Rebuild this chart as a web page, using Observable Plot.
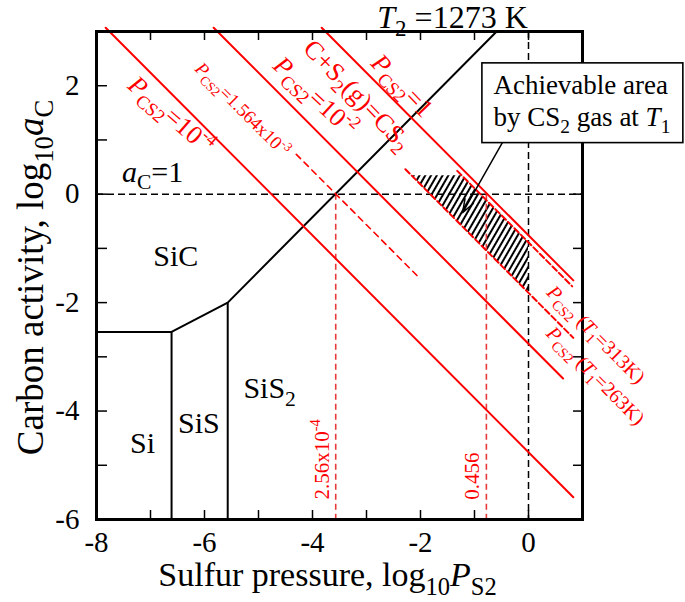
<!DOCTYPE html>
<html><head><meta charset="utf-8">
<script src="https://cdn.jsdelivr.net/npm/d3@7"></script>
<script src="https://cdn.jsdelivr.net/npm/@observablehq/plot@0.6"></script>
<style>body{margin:0;background:#fff}#chart svg{display:block;overflow:visible}</style>
</head><body><div id="chart"></div>
<script>
// ---- data (log10 units) ----
const xDomain = [-8, 1];
const yDomain = [-6, 3];
const xTickLabels = [-8, -6, -4, -2, 0];
const yTickLabels = [-6, -4, -2, 0, 2];
// C + S2(g) = CS2 : log aC = log P_CS2 + K0 - log P_S2
const K0 = -0.76;
const isobarLogP = [-4, -2, 0];            // solid P_CS2 = 1e-4, 1e-2, 1
const isobarEndX = [0.83, 0.64, 0.83];
const isobarTopY = 3.07;
const midLogP = -2.806;                      // P_CS2 = 1.564e-3 (dashed)
const midRangeX = [-4.3, -2.06];
const t1Intercept = [-0.89, -1.82];          // P_CS2(T1=313K), P_CS2(T1=263K)
const t1StartX = [-1.32, -2.28];
const t1EndX = [0.81, 0.83];
const hatchTopY = 0.34;
const vRedX = [-3.57, -0.78];                // 2.56e-4 , 0.456
const vRedLabels = ["2.56x10^{-4}", "0.456"];
const boundaryX = [-8, -6.61, -5.57, -0.59];
const boundaryY = [-2.54, -2.54, -2.0, 3];
const wallX = [-6.61, -5.57];
const wallTopY = [-2.54, -2.0];

// ---- derived tables ----
const isoPts = isobarLogP.flatMap((p, i) => {
  const c = p + K0;
  return [{id: i, x: c - isobarTopY, y: isobarTopY}, {id: i, x: isobarEndX[i], y: c - isobarEndX[i]}];
});
const midPts = midRangeX.map(x => ({x, y: midLogP + K0 - x}));
const t1Pts = t1Intercept.flatMap((c, i) => [
  {id: i, x: t1StartX[i], y: c - t1StartX[i]}, {id: i, x: t1EndX[i], y: c - t1EndX[i]}]);
const hx0 = t1Intercept[1] - hatchTopY, hx1 = t1Intercept[0] - hatchTopY;
const hatch = [hx0, hx1, 0].map(x => ({x, lo: t1Intercept[1] - x, hi: Math.min(hatchTopY, t1Intercept[0] - x)}));
const boundary = boundaryX.map((x, i) => ({x, y: boundaryY[i]}));
const walls = wallX.map((x, i) => ({x, y1: wallTopY[i], y2: yDomain[0]}));

const W = 685, H = 602, mL = 96, mR = 103, mT = 31, mB = 83;
const pw = W - mL - mR, ph = H - mT - mB;
const RED = "#ff0000", font = "Liberation Serif";
const T = (text, x, y, o = {}) => Plot.text([0], {x: [x], y: [y], text: [text], ...o});

const chart = Plot.plot({
  width: W, height: H, marginLeft: mL, marginRight: mR, marginTop: mT, marginBottom: mB,
  style: {fontFamily: font, fontSize: "29px", background: "#fff", color: "#000"},
  x: {domain: xDomain, axis: null},
  y: {domain: yDomain, axis: null},
  marks: [
    Plot.areaY(hatch, {x: "x", y1: "lo", y2: "hi", fill: "url(#hatch)", curve: "linear"}),
    Plot.ruleY([0], {stroke: "#000", strokeWidth: 1.5, strokeDasharray: "7,4"}),
    Plot.ruleX([0], {stroke: "#000", strokeWidth: 1.5, strokeDasharray: "7,4"}),
    Plot.ruleX(vRedX, {x: d => d, y1: 0, y2: yDomain[0], stroke: "#e83a3a", strokeWidth: 1.6, strokeDasharray: "6,4"}),
    Plot.line(boundary, {x: "x", y: "y", stroke: "#000", strokeWidth: 2}),
    Plot.ruleX(walls, {x: "x", y1: "y1", y2: "y2", stroke: "#000", strokeWidth: 2}),
    Plot.line(isoPts, {x: "x", y: "y", z: "id", stroke: RED, strokeWidth: 2}),
    Plot.line(midPts, {x: "x", y: "y", stroke: RED, strokeWidth: 1.6, strokeDasharray: "6,5"}),
    Plot.line(t1Pts, {x: "x", y: "y", z: "id", stroke: RED, strokeWidth: 2, strokeDasharray: "6,3"}),
    // inward ticks
    Plot.ruleX(d3.range(-8, 2), {x: d => d, insetTop: ph - 9, strokeWidth: 1.5}),
    Plot.ruleX(d3.range(-8, 2), {x: d => d, insetBottom: ph - 9, strokeWidth: 1.5}),
    Plot.ruleY(d3.range(-6, 4), {y: d => d, insetRight: pw - 11, strokeWidth: 1.5}),
    Plot.ruleY(d3.range(-6, 4), {y: d => d, insetLeft: pw - 9, strokeWidth: 1.5}),
    Plot.frame({stroke: "#000", strokeWidth: 3}),
    Plot.axisX(xTickLabels, {anchor: "bottom", label: null, tickSize: 0, tickPadding: 12, fontSize: 29, tickFormat: d => `${d}`}),
    Plot.axisY(yTickLabels, {anchor: "left", label: null, tickSize: 0, tickPadding: 17, fontSize: 29, tickFormat: d => `${d}`}),
    // axis titles
    Plot.text([0], {frameAnchor: "bottom", textAnchor: "middle", lineAnchor: "middle", dy: 56, dx: -12, text: ["Sulfur pressure, log_{10}*{P}_{S2}"], fontSize: 34}),
    Plot.text([0], {frameAnchor: "left", textAnchor: "middle", lineAnchor: "middle", dx: -65, dy: 2, rotate: -90, text: ["Carbon activity, log_{10}*{a}_{C}"], fontSize: 37}),
    // black labels
    T("*{T}_{2} =1273 K", -2.80, 3, {textAnchor: "start", dy: -14, fontSize: 32}),
    T("*{a}_{C}=1", -7.53, 0.41, {textAnchor: "start", fontSize: 30}),
    T("SiC", -6.95, -1.14, {textAnchor: "start", fontSize: 30}),
    T("Si", -7.38, -4.6, {textAnchor: "start", fontSize: 30}),
    T("SiS", -6.49, -4.22, {textAnchor: "start", fontSize: 30}),
    T("SiS_{2}", -5.28, -3.59, {textAnchor: "start", fontSize: 30}),
    // red labels
    T("*{P}_{CS2}=10^{-4}", -6.62, 1.46, {rotate: 41, fill: RED, fontSize: 26}),
    T("*{P}_{CS2}=1.564x10^{-3}", -5.30, 1.56, {rotate: 45, fill: RED, fontSize: 18.5}),
    T("*{P}_{CS2}=10^{-2}", -3.95, 1.80, {rotate: 43, fill: RED, fontSize: 26}),
    T("C+S_{2}(g)=CS_{2}", -3.17, 1.83, {rotate: 46, fill: RED, fontSize: 26}),
    T("*{P}_{CS2}=1", -2.34, 2.0, {rotate: 46, fill: RED, fontSize: 26}),
    T("*{P}_{CS2} (*{T}_{1}=313K)", 1.25, -2.59, {rotate: 45, fill: RED, fontSize: 20}),
    T("*{P}_{CS2} (*{T}_{1}=263K)", 1.24, -3.35, {rotate: 45, fill: RED, fontSize: 20}),
    Plot.text(vRedLabels, {x: [-3.82, -1.04], y: [-4.89, -5.2], text: d => d, rotate: -90, fill: RED, fontSize: 21}),
    // arrow + box
    Plot.arrow([0], {x1: [-0.46], y1: [0.99], x2: [-1.22], y2: [-0.34], stroke: "#000", strokeWidth: 1.5, headLength: 14, headAngle: 40}),
    Plot.text(["Achievable area", "by CS_{2} gas at *{T}_{1}"], {x: [-0.65, -0.65], y: [2.0, 1.41], text: d => d, textAnchor: "start", fontSize: 27, className: "annot"})
  ]
});

document.getElementById("chart").appendChild(chart);
const NS = "http://www.w3.org/2000/svg";
const defs = document.createElementNS(NS, "defs");
defs.innerHTML = `<pattern id="hatch" width="5" height="5" patternUnits="userSpaceOnUse" patternTransform="rotate(30)"><line x1="1" y1="-1" x2="1" y2="6" stroke="#000" stroke-width="2"/></pattern>`;
chart.insertBefore(defs, chart.firstChild);

function richify(svg) {
  svg.querySelectorAll("text").forEach(t => {
    const s = t.textContent;
    if (!/[_^*]\{/.test(s)) return;
    const fs = parseFloat(getComputedStyle(t).fontSize) || 16;
    while (t.firstChild) t.removeChild(t.firstChild);
    let cur = 0, last = 0, m;
    const re = /([_^*])\{([^}]*)\}/g;
    const add = (str, kind) => {
      if (!str) return;
      const sp = document.createElementNS(NS, "tspan");
      let target = 0;
      if (kind === "_") { target = 0.25 * fs; sp.setAttribute("font-size", (0.72 * fs).toFixed(1)); }
      else if (kind === "^") { target = -0.42 * fs; sp.setAttribute("font-size", (0.68 * fs).toFixed(1)); }
      else if (kind === "*") sp.setAttribute("font-style", "italic");
      if (Math.abs(target - cur) > 0.01) sp.setAttribute("dy", (target - cur).toFixed(2));
      cur = target;
      sp.textContent = str;
      t.appendChild(sp);
    };
    while ((m = re.exec(s))) { add(s.slice(last, m.index), ""); add(m[2], m[1]); last = re.lastIndex; }
    add(s.slice(last), "");
  });
}
richify(chart);

// white box behind the annotation text
const ann = chart.querySelector("g.annot") || [...chart.querySelectorAll("g[aria-label=text]")].pop();
if (ann) {
  const bb = ann.getBBox();
  const r = document.createElementNS(NS, "rect");
  r.setAttribute("x", bb.x - 11); r.setAttribute("y", bb.y - 7);
  r.setAttribute("width", bb.width + 24); r.setAttribute("height", bb.height + 13);
  r.setAttribute("fill", "#fff"); r.setAttribute("stroke", "#000"); r.setAttribute("stroke-width", "1.6");
  ann.parentNode.insertBefore(r, ann);
}
</script></body></html>
